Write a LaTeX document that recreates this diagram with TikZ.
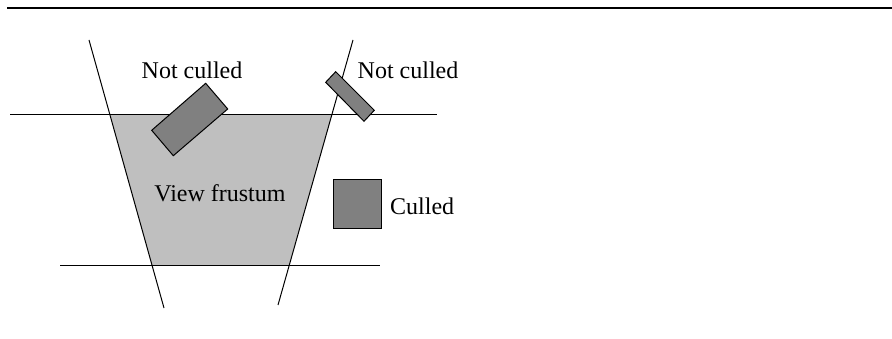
\documentclass[tikz,border=0pt]{standalone}
\usepackage{fontspec}
\setmainfont{Liberation Serif}
\begin{document}
\begin{tikzpicture}[x=1pt,y=-1pt,
  lbl/.style={font=\fontsize{24}{27}\selectfont, inner sep=0pt},
  obj/.style={draw=black, fill=black!50, line width=1pt},
  ln/.style={line width=1pt}]
\useasboundingbox (0,0) rectangle (892,339);
% frame line
\coordinate (tl) at (7,8); \coordinate (tr) at (892,8);
\draw[line width=1.5pt] (tl) -- (tr);
% frustum planes
\coordinate (La) at (89,40); \coordinate (Lb) at (164,308);
\coordinate (Ra) at (353,40); \coordinate (Rb) at (278,305);
\coordinate (Ta) at (10,114.5); \coordinate (Tb) at (437,114.5);
\coordinate (Ba) at (60,265.5); \coordinate (Bb) at (380,265.5);
\fill[black!25] (110,114.5) -- (332,114.5) -- (289,265.5) -- (152,265.5) -- cycle;
\draw[ln] (La) -- (Lb);
\draw[ln] (Ra) -- (Rb);
\draw[ln] (Ta) -- (Tb);
\draw[ln] (Ba) -- (Bb);
% objects
\draw[obj] (205.7,83.3) -- (227.7,109) -- (173.3,155.7) -- (151.7,130.3) -- cycle;
\draw[obj] (325.7,82.3) -- (335.7,71.7) -- (374.3,110.3) -- (364,121.3) -- cycle;
\draw[obj] (333.3,180) rectangle (381.7,228.3);
% labels
\node[lbl] (nc1) at (192,70) {Not culled};
\node[lbl] (nc2) at (408,70) {Not culled};
\node[lbl] (vf) at (220,193) {View frustum};
\node[lbl, anchor=west] (cu) at (390,206) {Culled};
\end{tikzpicture}
\end{document}
